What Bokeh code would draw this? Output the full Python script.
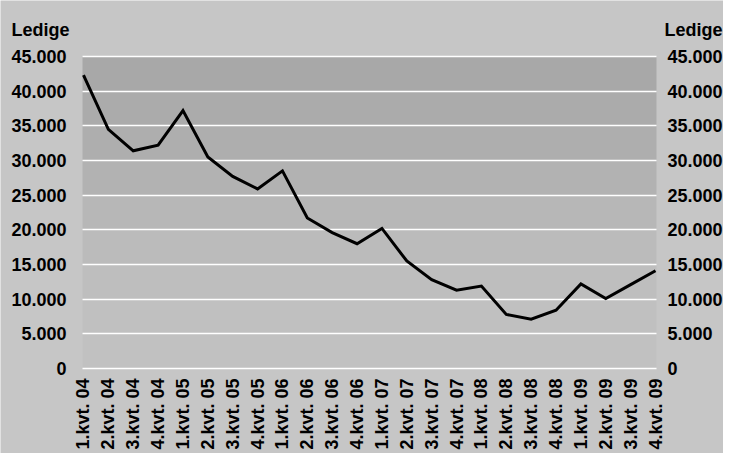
from bokeh.plotting import figure
from bokeh.models import Range1d, LinearAxis, FixedTicker, Label, Grid
from bokeh.embed import file_html
from bokeh.resources import INLINE
import math

quarters = ["1.kvt. 04", "2.kvt. 04", "3.kvt. 04", "4.kvt. 04",
            "1.kvt. 05", "2.kvt. 05", "3.kvt. 05", "4.kvt. 05",
            "1.kvt. 06", "2.kvt. 06", "3.kvt. 06", "4.kvt. 06",
            "1.kvt. 07", "2.kvt. 07", "3.kvt. 07", "4.kvt. 07",
            "1.kvt. 08", "2.kvt. 08", "3.kvt. 08", "4.kvt. 08",
            "1.kvt. 09", "2.kvt. 09", "3.kvt. 09", "4.kvt. 09"]
ledige = [42300, 34500, 31400, 32200,
          37200, 30500, 27700, 25900,
          28500, 21700, 19600, 18000,
          20200, 15500, 12800, 11300,
          11900, 7800, 7100, 8400,
          12200, 10100, 12100, 14100]
y_ticks = [0, 5000, 10000, 15000, 20000, 25000, 30000, 35000, 40000, 45000]
y_labels = ["0", "5.000", "10.000", "15.000", "20.000", "25.000",
            "30.000", "35.000", "40.000", "45.000"]
y_title = "Ledige"

FONT = "Liberation Sans"
FS = "18px"
OUTER = "#c6c6c6"
band_colors = ["#c1c1c1", "#c0c0c0", "#bebebe", "#bbbbbb", "#b7b7b7",
               "#b2b2b2", "#aeaeae", "#ababab", "#a8a8a8"]

# layout in pixels (canvas == frame)
W, H = 723, 453
PL, PR, PT, PB = 82, 656, 56, 368      # plot-area box
x = list(range(len(quarters)))
x0, x1 = -0.04, len(quarters) - 1 + 0.04
y0, y1 = y_ticks[0], y_ticks[-1]
ux = (PR - PL) / (x1 - x0)
uy = (PB - PT) / (y1 - y0)
xr = Range1d(x0 - PL / ux, x1 + (W - PR) / ux)
yr = Range1d(y0 - (H - PB) / uy, y1 + PT / uy)

p = figure(width=W, height=H, output_backend="svg", toolbar_location=None,
           x_range=xr, y_range=yr,
           min_border=0, min_border_left=0, min_border_right=0,
           min_border_top=0, min_border_bottom=0,
           x_axis_location=None, y_axis_location=None)
p.outline_line_color = None
p.border_fill_color = OUTER
p.background_fill_color = OUTER
p.grid.visible = False

n = len(y_ticks) - 1
bands = p.quad(left=[x0] * n, right=[x1] * n,
               bottom=y_ticks[:-1], top=y_ticks[1:], fill_color=band_colors,
               line_color=None, level="image")

if "cross_bounds" in Grid.properties():
    p.add_layout(Grid(dimension=1, ticker=FixedTicker(ticks=y_ticks),
                      cross_bounds=(x0, x1),
                      grid_line_color="white", grid_line_width=1.5))
else:
    p.segment(x0=[x0] * len(y_ticks), x1=[x1] * len(y_ticks), y0=y_ticks,
              y1=y_ticks, line_color="white", line_width=1.5, level="underlay")

def style(ax, standoff):
    ax.axis_line_color = None
    ax.major_tick_line_color = None
    ax.minor_tick_line_color = None
    ax.major_tick_out = 0
    ax.major_tick_in = 0
    ax.minor_tick_out = 0
    ax.minor_tick_in = 0
    ax.major_label_text_font = FONT
    ax.major_label_text_font_style = "bold"
    ax.major_label_text_font_size = FS
    ax.major_label_text_color = "#000000"
    ax.major_label_standoff = standoff
    return ax

for side, loc, so in (("left", x0, 16), ("right", x1, 11)):
    ax = LinearAxis(ticker=FixedTicker(ticks=y_ticks), fixed_location=loc,
                    major_label_overrides={t: l for t, l in zip(y_ticks, y_labels)})
    p.add_layout(style(ax, so), side)

xa = LinearAxis(ticker=FixedTicker(ticks=x), fixed_location=y0,
                major_label_overrides={i: q for i, q in zip(x, quarters)})
xa.major_label_orientation = math.pi / 2
p.add_layout(style(xa, 10), "below")

p.line(x, ledige, line_color="#000000", line_width=3, line_join="miter")

ty = y1 + (PT - 29) / uy
for tx in (x0 - (PL - 11) / ux, x1 + 8 / ux):
    p.add_layout(Label(x=tx, y=ty, text=y_title, text_font=FONT,
                       text_font_style="bold", text_font_size=FS,
                       text_align="left", text_baseline="middle",
                       text_color="#000000"))

open("out.html", "w").write(file_html(p, INLINE))
